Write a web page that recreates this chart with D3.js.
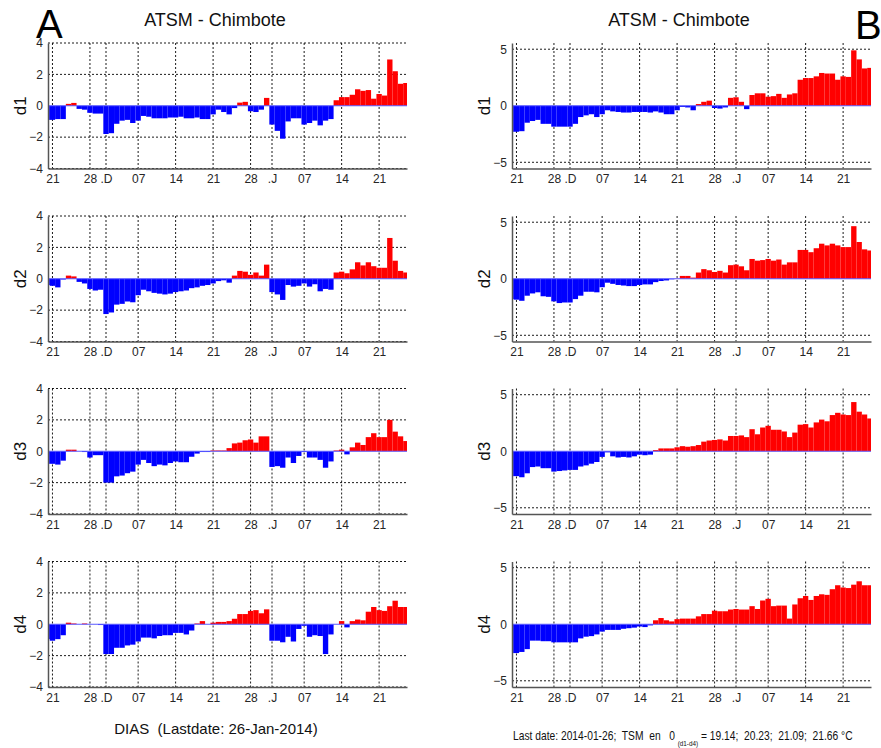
<!DOCTYPE html>
<html>
<head>
<meta charset="utf-8">
<script src="https://cdn.jsdelivr.net/npm/d3@7"></script>
<style>
  body { margin: 0; background: #fff; }
  svg { display: block; font-family: "Liberation Sans", Arial, sans-serif; }
</style>
</head>
<body>
<svg id="chart"></svg>
<script>
// first bar = 2013-11-20, one bar per day up to 2014-01-26
const startDay = "2013-11-20";
const tickDates = ["2013-11-21", "2013-11-28", "2013-12-01", "2013-12-07", "2013-12-14", "2013-12-21",
                   "2013-12-28", "2014-01-01", "2014-01-07", "2014-01-14", "2014-01-21"];
const tickLabels = ["21", "28", ".D", "07", "14", "21", "28", ".J", "07", "14", "21"];
const rowNames = ["d1", "d2", "d3", "d4"];
const yTicksA = [-4, -2, 0, 2, 4];
const yTicksB = [-5, 0, 5];
const tsmValues = ["19.14", "20.23", "21.09", "21.66"];

// panel A: daily anomalies
const atsmA1 = [-0.9, -0.9, -0.85, -0.85, 0.12, 0.18, -0.2, -0.25, -0.45, -0.5,
  -0.5, -1.8, -1.75, -1.15, -0.95, -0.9, -1.1, -0.95, -0.65, -0.7,
  -0.8, -0.8, -0.8, -0.75, -0.75, -0.7, -0.8, -0.8, -0.75, -0.85,
  -0.85, -0.55, -0.25, -0.4, -0.55, -0.15, 0.2, 0.25, -0.35, -0.4,
  -0.25, 0.5, -1.2, -1.6, -2.1, -1.0, -0.8, -0.8, -1.2, -1.1,
  -0.95, -1.25, -0.95, -0.85, 0.35, 0.55, 0.55, 0.7, 1.05, 0.95,
  1.0, 0.45, 0.75, 0.65, 2.95, 2.2, 1.4, 1.45];
const atsmA2 = [-0.4, -0.45, -0.55, -0.05, 0.2, 0.15, -0.2, -0.3, -0.65, -0.75,
  -0.7, -2.25, -2.15, -1.65, -1.6, -1.45, -1.5, -1.05, -0.7, -0.8,
  -0.9, -0.95, -1.0, -0.95, -0.85, -0.8, -0.75, -0.6, -0.55, -0.45,
  -0.4, -0.3, -0.15, -0.1, -0.25, 0.2, 0.5, 0.45, 0.25, 0.4,
  0.2, 0.9, -0.85, -1.0, -1.35, -0.4, -0.5, -0.45, -0.3, -0.5,
  -0.35, -0.8, -0.65, -0.7, 0.4, 0.45, 0.35, 0.6, 1.05, 0.85,
  1.05, 0.8, 0.7, 0.7, 2.6, 1.15, 0.5, 0.4];
const atsmA3 = [-0.8, -0.8, -0.85, -0.6, 0.1, 0.1, 0.0, -0.05, -0.4, -0.25,
  -0.25, -2.0, -2.0, -1.6, -1.55, -1.4, -1.3, -0.85, -0.55, -0.75,
  -0.95, -0.85, -0.9, -0.75, -0.65, -0.7, -0.7, -0.35, -0.15, -0.05,
  -0.05, 0.05, 0.05, 0.05, 0.2, 0.5, 0.55, 0.7, 0.75, 0.55,
  0.95, 0.95, -1.0, -0.95, -1.05, -0.4, -0.75, -0.3, -0.05, -0.4,
  -0.4, -0.55, -1.05, -0.65, 0.05, 0.1, -0.2, 0.25, 0.55, 0.4,
  0.9, 1.15, 0.9, 0.9, 2.0, 1.25, 0.95, 0.65];
const atsmA4 = [-0.95, -1.05, -0.95, -0.7, 0.1, 0.05, 0.0, 0.05, 0.0, 0.0,
  -0.05, -1.9, -1.9, -1.5, -1.5, -1.35, -1.3, -1.1, -0.85, -0.85,
  -0.9, -0.75, -0.7, -0.7, -0.55, -0.55, -0.65, -0.4, 0.05, 0.2,
  0.0, 0.1, 0.15, 0.15, 0.2, 0.35, 0.65, 0.65, 0.85, 0.9,
  0.7, 0.95, -1.05, -1.05, -1.15, -0.8, -1.1, -0.3, -0.1, -0.8,
  -0.7, -0.75, -1.9, -0.65, 0.0, 0.2, -0.2, 0.2, 0.3, 0.25,
  0.8, 1.1, 0.9, 0.85, 1.15, 1.5, 1.1, 1.1];

// panel B
const atsmB1 = [-2.3, -2.3, -2.25, -1.5, -1.35, -1.25, -1.6, -1.6, -1.85, -1.85,
  -1.85, -1.85, -1.6, -1.0, -0.85, -0.75, -1.0, -0.75, -0.4, -0.5,
  -0.55, -0.6, -0.6, -0.55, -0.55, -0.55, -0.6, -0.5, -0.6, -0.75,
  -0.75, -0.4, -0.1, -0.15, -0.4, 0.15, 0.35, 0.45, -0.2, -0.25,
  -0.15, 0.7, 0.75, 0.35, -0.3, 0.95, 1.1, 1.1, 0.8, 0.85,
  1.05, 0.7, 1.0, 1.1, 2.3, 2.45, 2.45, 2.6, 2.9, 2.85,
  2.85, 2.3, 2.6, 2.55, 4.9, 4.1, 3.3, 3.35];
const atsmB2 = [-1.8, -1.85, -1.95, -1.5, -1.3, -1.2, -1.55, -1.6, -2.0, -2.15,
  -2.1, -2.1, -1.8, -1.5, -1.15, -1.15, -1.2, -0.75, -0.35, -0.45,
  -0.55, -0.6, -0.65, -0.65, -0.55, -0.5, -0.5, -0.3, -0.2, -0.15,
  -0.05, 0.02, 0.25, 0.25, 0.1, 0.55, 0.85, 0.75, 0.6, 0.7,
  0.55, 1.2, 1.25, 1.1, 0.75, 1.75, 1.6, 1.65, 1.75, 1.6,
  1.7, 1.25, 1.45, 1.45, 2.55, 2.55, 2.35, 2.7, 3.1, 2.95,
  3.1, 2.95, 2.8, 2.8, 4.65, 3.25, 2.6, 2.5];
const atsmB3 = [-2.2, -2.2, -2.3, -1.95, -1.4, -1.35, -1.5, -1.5, -1.8, -1.75,
  -1.7, -1.65, -1.65, -1.35, -1.25, -1.1, -0.95, -0.5, -0.1, -0.45,
  -0.55, -0.5, -0.55, -0.45, -0.3, -0.35, -0.3, 0.1, 0.25, 0.25,
  0.25, 0.35, 0.45, 0.4, 0.45, 0.55, 0.85, 0.95, 1.0, 1.05,
  0.95, 1.35, 1.35, 1.4, 1.25, 1.95, 1.5, 2.1, 2.25, 1.9,
  1.9, 1.75, 1.25, 1.65, 2.35, 2.4, 2.1, 2.55, 2.8, 2.65,
  3.2, 3.4, 3.25, 3.2, 4.35, 3.5, 3.25, 2.9];
const atsmB4 = [-2.55, -2.55, -2.45, -2.2, -1.45, -1.45, -1.5, -1.5, -1.6, -1.6,
  -1.6, -1.6, -1.6, -1.25, -1.1, -1.05, -0.9, -0.65, -0.5, -0.5,
  -0.5, -0.4, -0.35, -0.3, -0.2, -0.25, -0.1, 0.35, 0.55, 0.35,
  0.25, 0.45, 0.5, 0.5, 0.5, 0.7, 0.9, 0.9, 1.2, 1.15,
  1.15, 1.3, 1.35, 1.3, 1.3, 1.6, 1.35, 2.1, 2.25, 1.6,
  1.65, 1.65, 0.5, 1.75, 2.3, 2.5, 2.15, 2.5, 2.65, 2.6,
  3.1, 3.45, 3.25, 3.2, 3.5, 3.8, 3.45, 3.45];

let w = 881;
let h = 748;

let svg = d3.select("#chart")
    .attr("width", w)
    .attr("height", h);

let parseDay = d3.utcParse("%Y-%m-%d");
let start = parseDay(startDay);
let tickDays = tickDates.map(parseDay);

let rowTops = [43, 216, 388.5, 561.5];
let rowH = 125.5;

function drawPanel(x0, x1, top, vals, yDom, yTicks, name, labelX, id) {
    let bottom = top + rowH;

    let xScale = d3.scaleUtc()
        .domain([d3.utcHour.offset(start, 4), d3.utcHour.offset(start, 67 * 24 + 5)])
        .range([x0, x1]);
    let yScale = d3.scaleLinear()
        .domain(yDom)
        .range([bottom, top]);

    let g = svg.append("g");

    g.append("clipPath").attr("id", id)
        .append("rect")
        .attr("x", x0).attr("y", top)
        .attr("width", x1 - x0).attr("height", rowH);

    // dashed grid
    g.append("g").selectAll("line")
        .data(tickDays)
        .join("line")
        .attr("x1", d => xScale(d)).attr("x2", d => xScale(d))
        .attr("y1", top).attr("y2", bottom)
        .attr("stroke", "#000").attr("stroke-width", 0.9)
        .attr("stroke-dasharray", "2,2");
    g.append("g").selectAll("line")
        .data(yTicks.filter(v => v !== 0))
        .join("line")
        .attr("x1", x0).attr("x2", x1)
        .attr("y1", d => yScale(d)).attr("y2", d => yScale(d))
        .attr("stroke", "#000").attr("stroke-width", 0.9)
        .attr("stroke-dasharray", "2,2");

    // bars, one per day centred on the date
    g.append("g").attr("clip-path", `url(#${id})`)
        .selectAll("rect")
        .data(vals)
        .join("rect")
        .attr("x", (d, i) => xScale(d3.utcHour.offset(start, i * 24 - 12)))
        .attr("width", (d, i) => xScale(d3.utcHour.offset(start, i * 24 + 12)) - xScale(d3.utcHour.offset(start, i * 24 - 12)))
        .attr("y", d => yScale(Math.max(0, d)))
        .attr("height", d => Math.abs(yScale(d) - yScale(0)))
        .attr("fill", d => d >= 0 ? "#ff0000" : "#0000ff");

    // baseline
    g.append("line")
        .attr("x1", x0).attr("x2", x1)
        .attr("y1", yScale(0)).attr("y2", yScale(0))
        .attr("stroke", "#5a5aff").attr("stroke-width", 1);

    // axes
    let xAxis = d3.axisBottom(xScale)
        .tickValues(tickDays)
        .tickFormat((d, i) => tickLabels[i])
        .tickSize(0)
        .tickPadding(6);
    let xAxisGroup = g.append("g")
        .attr("transform", `translate(0, ${bottom})`)
        .call(xAxis);

    let yAxis = d3.axisLeft(yScale)
        .tickValues(yTicks)
        .tickSize(0)
        .tickPadding(5);
    let yAxisGroup = g.append("g")
        .attr("transform", `translate(${x0}, 0)`)
        .call(yAxis);

    [xAxisGroup, yAxisGroup].forEach(ax => {
        ax.attr("font-family", null).attr("font-size", 12);
        ax.select(".domain").attr("stroke", "#555").attr("stroke-width", 1.5);
        ax.selectAll("text").attr("fill", "#262626");
    });

    g.append("text")
        .attr("transform", `translate(${labelX}, ${(top + bottom) / 2}) rotate(-90)`)
        .attr("text-anchor", "middle")
        .attr("font-size", 17)
        .attr("fill", "#111")
        .text(name);
}

let seriesA = [atsmA1, atsmA2, atsmA3, atsmA4];
let seriesB = [atsmB1, atsmB2, atsmB3, atsmB4];

rowNames.forEach((name, r) => {
    drawPanel(48, 407, rowTops[r], seriesA[r], [-4, 4], yTicksA, name, 26, "clipA" + r);
    drawPanel(512, 871, rowTops[r], seriesB[r], [-5.55, 5.55], yTicksB, name, 490, "clipB" + r);
});

// titles and panel letters
svg.append("text").attr("x", 215).attr("y", 26).attr("text-anchor", "middle")
    .attr("font-size", 18).attr("fill", "#111").text("ATSM - Chimbote");
svg.append("text").attr("x", 679).attr("y", 26).attr("text-anchor", "middle")
    .attr("font-size", 18).attr("fill", "#111").text("ATSM - Chimbote");
svg.append("text").attr("x", 36).attr("y", 38)
    .attr("font-size", 40).attr("fill", "#000").text("A");
svg.append("text").attr("x", 855).attr("y", 39)
    .attr("font-size", 40).attr("fill", "#000").text("B");

// footers
svg.append("text").attr("x", 216).attr("y", 734).attr("text-anchor", "middle")
    .attr("font-size", 15).attr("fill", "#111")
    .style("white-space", "pre")
    .text("DIAS  (Lastdate: 26-Jan-2014)");

let foot = svg.append("text")
    .attr("font-size", 13).attr("fill", "#111")
    .style("white-space", "pre");
foot.append("tspan").text("Last date: 2014-01-26;  TSM  en   0 ");
foot.append("tspan").attr("font-size", 8).attr("dy", 6).text("(d1-d4)");
foot.append("tspan").attr("dy", -6).text(" = " + tsmValues.join(";  ") + " °C");
let footW = foot.node().getComputedTextLength();
foot.attr("transform", `translate(513, 740) scale(${340 / footW}, 1)`);
</script>
